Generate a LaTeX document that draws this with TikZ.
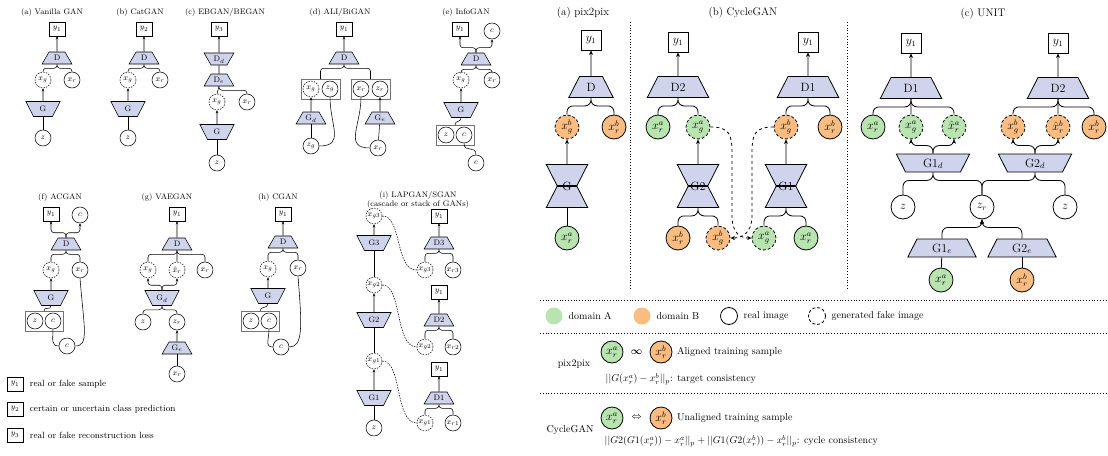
\documentclass[tikz,border=0pt]{standalone}
\usepackage{amsmath,amssymb}
\usepackage{xcolor}
\usepackage{tikz}
\usetikzlibrary{arrows.meta,calc,positioning,shapes.geometric,fit}

\definecolor{netfill}{RGB}{208,211,236}
\definecolor{domA}{RGB}{184,228,175}
\definecolor{domB}{RGB}{249,189,130}

\begin{document}
\begin{tikzpicture}[x=1pt,y=-1pt,
  >={Stealth[length=3pt,width=2.6pt]},
  ttl/.style={font=\footnotesize},
  rttl/.style={font=\fontsize{11}{13}\selectfont},
  img/.style={circle,draw,minimum size=16pt,inner sep=0pt,font=\footnotesize},
  fake/.style={img,dash pattern=on 1.5pt off 1.2pt},
  ybox/.style={draw,minimum width=16pt,minimum height=14pt,inner sep=0pt,font=\footnotesize},
  net/.style={trapezium,trapezium angle=60,draw,fill=netfill,inner sep=0pt,align=center,
    text width=16pt,text height=8.75pt,text depth=3.25pt,font=\footnotesize},
  gen/.style={net,shape border rotate=180,trapezium angle=63,text width=19pt,
    text height=10.25pt,text depth=4.75pt},
  grp/.style={draw=black!55,inner sep=1.5pt},
  fork/.style={rounded corners=3pt,to path={-- ($(\tikztostart)+(0,#1)$) -| (\tikztotarget)}},
  fork/.default=4,
  bigfork/.style={fork=#1,rounded corners=6pt},
  bigfork/.default=8,
  bigimg/.style={circle,draw,minimum size=24pt,inner sep=0pt,font=\large},
  bigfake/.style={bigimg,dash pattern=on 3pt off 2pt},
  bignet/.style={trapezium,trapezium angle=63,draw,fill=netfill,inner sep=0pt,align=center,
    text width=#1,text height=14.6pt,text depth=6.4pt,font=\large},
  bignet/.default=40pt,
  bigdec/.style={bignet=#1,shape border rotate=180},
  bigdec/.default=40pt,
  flat/.style={text height=13.1pt,text depth=4.9pt},
  bigbox/.style={draw,minimum size=20pt,inner sep=0pt,font=\large},
  sep/.style={dotted,line width=0.8pt}]
\useasboundingbox (0,0) rectangle (1108,455);

\begin{scope}[line width=0.55pt]
% (a) vanilla
\node[ttl] at (52,12) {(a) Vanilla GAN};
\node[ybox] (a-y) at (57,29) {$y_1$};
\node[net] (a-D) at (57,58) {D};
\node[fake] (a-xg) at (43,80) {$x_g$};
\node[img] (a-xr) at (72,80) {$x_r$};
\node[gen] (a-G) at (43,109) {G};
\node[img] (a-z) at (43,138) {$z$};
\draw[->] (a-D) -- (a-y);
\draw[fork] (a-D.south) to (a-xg.north) (a-D.south) to (a-xr.north);
\draw[->] (a-G) -- (a-xg);
\draw (a-z) -- (a-G);

% (b) catgan
\node[ttl] at (140,12) {(b) CatGAN};
\node[ybox] (b-y) at (144,29) {$y_2$};
\node[net] (b-D) at (144,58) {D};
\node[fake] (b-xg) at (128,80) {$x_g$};
\node[img] (b-xr) at (160,80) {$x_r$};
\node[gen] (b-G) at (128,109) {G};
\node[img] (b-z) at (128,138) {$z$};
\draw[->] (b-D) -- (b-y);
\draw[fork] (b-D.south) to (b-xg.north) (b-D.south) to (b-xr.north);
\draw[->] (b-G) -- (b-xg);
\draw (b-z) -- (b-G);

% (c) ebgan
\node[ttl] at (225,12) {(c) EBGAN/BEGAN};
\node[ybox] (c-y) at (219,29) {$y_3$};
\node[net,shape border rotate=180] (c-Dd) at (219,59) {D$_d$};
\node[net] (c-De) at (219,80) {D$_e$};
\node[fake] (c-xg) at (217,102) {$x_g$};
\node[img] (c-xr) at (247,102) {$x_r$};
\node[gen] (c-G) at (217,132) {G};
\node[img] (c-z) at (217,163) {$z$};
\draw[->] (c-Dd) -- (c-y);
\draw (c-De) -- (c-Dd);
\draw (c-De.south) -- (c-xg.north);
\draw[fork] (c-De.south) to (c-xr.north);
\draw[->] (c-G) -- (c-xg);
\draw (c-z) -- (c-G);

% (d) ali
\node[ttl] at (340,12) {(d) ALI/BiGAN};
\node[ybox] (d-y) at (344,29) {$y_1$};
\node[net] (d-D) at (344,58) {D};
\node[fake] (d-xg) at (311,89) {$x_g$};
\node[img] (d-zg) at (330,89) {$z_g$};
\node[img] (d-xr) at (361,89) {$x_r$};
\node[img] (d-zr) at (380,89) {$z_r$};
\node[grp,fit=(d-xg)(d-zg)] (d-bl) {};
\node[grp,fit=(d-xr)(d-zr)] (d-br) {};
\node[net] (d-Gd) at (311,118) {G$_d$};
\node[net] (d-Ge) at (380,118) {G$_e$};
\node[img] (d-z) at (311,146) {$z_g$};
\node[img] (d-x) at (378,148) {$x_r$};
\draw[->] (d-D) -- (d-y);
\draw[fork] (d-D.south) to (d-bl.north) (d-D.south) to (d-br.north);
\draw[->] (d-Gd) -- (d-xg);
\draw (d-z) -- (d-Gd);
\draw (d-z.east) .. controls +(26,0) and +(0,28) .. (d-zg.south);
\draw[->] (d-Ge) -- (d-zr);
\draw (d-x) -- (d-Ge);
\draw (d-x.west) .. controls +(-26,0) and +(0,28) .. (d-xr.south);

% (e) infogan
\node[ttl] at (466,12) {(e) InfoGAN};
\node[ybox] (e-y) at (460,29) {$y_1$};
\node[img] (e-c) at (492,31) {$c$};
\node[net] (e-D) at (476,59) {D};
\node[fake] (e-xg) at (461,80) {$x_g$};
\node[img] (e-xr) at (492,80) {$x_r$};
\node[gen] (e-G) at (461,110) {G};
\node[img] (e-zi) at (446,135) {$z$};
\node[img] (e-ci) at (464,135) {$c$};
\node[grp,fit=(e-zi)(e-ci)] (e-b) {};
\node[img] (e-c2) at (476,163) {$c$};
\draw[fork=-5,->] (e-D.north) to (e-y.south);
\draw[fork=-5,->] (e-D.north) to (e-c.south);
\draw[fork] (e-D.south) to (e-xg.north) (e-D.south) to (e-xr.north);
\draw[->] (e-G) -- (e-xg);
\draw (e-b.north) .. controls +(0,-5) and +(0,5) .. (e-G.south);
\draw (e-ci.south) .. controls +(0,10) and +(0,-10) .. (e-c2.north);

% (f) acgan
\node[ttl] at (60,197) {(f) ACGAN};
\node[ybox] (f-y) at (51,214) {$y_1$};
\node[img] (f-c) at (80,215) {$c$};
\node[net] (f-D) at (66,244) {D};
\node[fake] (f-xg) at (51,270) {$x_g$};
\node[img] (f-xr) at (80,270) {$x_r$};
\node[gen] (f-G) at (51,298) {G};
\node[img] (f-zi) at (35,321) {$z$};
\node[img] (f-ci) at (53,321) {$c$};
\node[grp,fit=(f-zi)(f-ci)] (f-b) {};
\node[img] (f-c2) at (67,346) {$c$};
\draw[fork=-5,->] (f-D.north) to (f-y.south);
\draw[fork=-5,->] (f-D.north) to (f-c.south);
\draw[fork] (f-D.south) to (f-xg.north) (f-D.south) to (f-xr.north);
\draw[->] (f-G) -- (f-xg);
\draw (f-b.north) .. controls +(0,-5) and +(0,5) .. (f-G.south);
\draw (f-ci.south) .. controls +(0,10) and +(-8,0) .. (f-c2.west);
\draw (f-xr.south) .. controls +(4,50) and +(14,0) .. (f-c2.east);

% (g) vaegan
\node[ttl] at (167,197) {(g) VAEGAN};
\node[ybox] (g-y) at (177,214) {$y_1$};
\node[net] (g-D) at (177,244) {D};
\node[fake] (g-xg) at (148,270) {$x_g$};
\node[fake] (g-xh) at (177,270) {$\hat{x}_r$};
\node[img] (g-xr) at (205,270) {$x_r$};
\node[gen] (g-Gd) at (162,298) {G$_d$};
\node[img] (g-z) at (143,322) {$z$};
\node[img] (g-zr) at (177,322) {$z_r$};
\node[net] (g-Ge) at (177,348) {G$_e$};
\node[img] (g-x) at (177,374) {$x_r$};
\draw[->] (g-D) -- (g-y);
\draw[fork] (g-D.south) to (g-xg.north) (g-D.south) to (g-xr.north);
\draw (g-D.south) -- (g-xh.north);
\draw[fork=-5,->] (g-Gd.north) to (g-xg.south);
\draw[fork=-5,->] (g-Gd.north) to (g-xh.south);
\draw[fork] (g-Gd.south) to (g-z.north) (g-Gd.south) to (g-zr.north);
\draw[->] (g-Ge) -- (g-zr);
\draw (g-x) -- (g-Ge);

% (h) cgan
\node[ttl] at (278,197) {(h) CGAN};
\node[ybox] (h-y) at (283,214) {$y_1$};
\node[net] (h-D) at (283,242) {D};
\node[fake] (h-xg) at (268,269) {$x_g$};
\node[img] (h-xr) at (298,268) {$x_r$};
\node[gen] (h-G) at (268,296) {G};
\node[img] (h-zi) at (251,321) {$z$};
\node[img] (h-ci) at (269,321) {$c$};
\node[grp,fit=(h-zi)(h-ci)] (h-b) {};
\node[img] (h-c2) at (281,347) {$c$};
\draw[->] (h-D) -- (h-y);
\draw[fork] (h-D.south) to (h-xg.north) (h-D.south) to (h-xr.north);
\draw[->] (h-G) -- (h-xg);
\draw (h-b.north) .. controls +(0,-5) and +(0,5) .. (h-G.south);
\draw (h-ci.south) .. controls +(0,10) and +(-8,0) .. (h-c2.west);
\draw (h-xr.south) .. controls +(4,50) and +(14,0) .. (h-c2.east);

% (i) lapgan
\node[ttl,align=center] at (418,200) {(i) LAPGAN/SGAN\\(cascade or stack of GANs)};
\node[fake] (i-g3) at (374,216) {$x_{g3}$};
\node[gen] (i-G3) at (374,243) {G3};
\node[fake] (i-g2) at (374,285) {$x_{g2}$};
\node[gen] (i-G2) at (374,320) {G2};
\node[fake] (i-g1) at (374,361) {$x_{g1}$};
\node[gen] (i-G1) at (374,398) {G1};
\node[img] (i-z) at (374,428) {$z$};
\draw (i-z) -- (i-G1);
\draw[->] (i-G1) -- (i-g1);
\draw (i-g1) -- (i-G2);
\draw[->] (i-G2) -- (i-g2);
\draw (i-g2) -- (i-G3);
\draw[->] (i-G3) -- (i-g3);
\node[ybox] (i-y3) at (439,216) {$y_1$};
\node[net] (i-D3) at (439,243) {D3};
\node[fake] (i-h3) at (425,270) {$x_{g3}$};
\node[img] (i-r3) at (453,270) {$x_{r3}$};
\node[ybox] (i-y2) at (439,292) {$y_1$};
\node[net] (i-D2) at (439,320) {D2};
\node[fake] (i-h2) at (425,347) {$x_{g2}$};
\node[img] (i-r2) at (453,347) {$x_{r2}$};
\node[ybox] (i-y1) at (439,369) {$y_1$};
\node[net] (i-D1) at (439,398) {D1};
\node[fake] (i-h1) at (425,423) {$x_{g1}$};
\node[img] (i-r1) at (453,423) {$x_{r1}$};
\draw[->] (i-D3) -- (i-y3);
\draw[->] (i-D2) -- (i-y2);
\draw[->] (i-D1) -- (i-y1);
\draw[fork] (i-D3.south) to (i-h3.north) (i-D3.south) to (i-r3.north);
\draw[fork] (i-D2.south) to (i-h2.north) (i-D2.south) to (i-r2.north);
\draw[fork] (i-D1.south) to (i-h1.north) (i-D1.south) to (i-r1.north);
\draw[dash pattern=on 1.5pt off 1.2pt] (i-g3.east) .. controls +(20,0) and +(-22,0) .. (i-h3.west);
\draw[dash pattern=on 1.5pt off 1.2pt] (i-g2.east) .. controls +(20,0) and +(-22,0) .. (i-h2.west);
\draw[dash pattern=on 1.5pt off 1.2pt] (i-g1.east) .. controls +(20,0) and +(-22,0) .. (i-h1.west);

% legend
\node[ybox] (k1) at (15,384) {$y_1$};
\node[right=3pt of k1,font=\small] {real or fake sample};
\node[ybox] (k2) at (15,409) {$y_2$};
\node[right=3pt of k2,font=\small] {certain or uncertain class prediction};
\node[ybox] (k3) at (15,435) {$y_3$};
\node[right=3pt of k3,font=\small] {real or fake reconstruction loss};
\end{scope}

\begin{scope}[line width=0.8pt,>={Stealth[length=4.5pt,width=4pt]}]
% pix2pix
\node[rttl] at (583,13) {(a) pix2pix};
\node[bigbox] (p-y) at (591,40) {$y_1$};
\node[bignet=23pt] (p-D) at (591,87) {D};
\node[bigfake,fill=domB] (p-xg) at (567,127) {$x_g^b$};
\node[bigimg,fill=domB] (p-xr) at (614,127) {$x_r^b$};
\node[bigdec=20pt] (p-Gt) at (567,175) {};
\node[bignet=20pt] (p-Gb) at (567,197) {};
\node[font=\large] (p-G) at (567,186) {G};
\node[bigimg,fill=domA] (p-x) at (567,238) {$x_r^a$};
\draw[->] (p-D) -- (p-y);
\draw[bigfork] (p-D.south) to (p-xg.north) (p-D.south) to (p-xr.north);
\draw[->] (p-Gt) -- (p-xg);
\draw (p-x) -- (p-Gb);

\draw[sep] (630,22) -- (630,290);
\draw[sep] (847,22) -- (847,290);

% cyclegan
\node[rttl] at (743,13) {(b) CycleGAN};
\node[bigbox] (c2-y) at (678,42) {$y_1$};
\node[bignet] (c2-D) at (678,87) {D2};
\node[bigimg,fill=domA] (c2-xr) at (658,127) {$x_r^a$};
\node[bigfake,fill=domA] (c2-xg) at (698,127) {$x_g^a$};
\node[bigdec=20pt] (c2-Gt) at (698,175) {};
\node[bignet=20pt] (c2-Gb) at (698,197) {};
\node[font=\large] (c2-G) at (698,186) {G2};
\node[bigimg,fill=domB] (c2-xrb) at (678,238) {$x_r^b$};
\node[bigfake,fill=domB] (c2-xgb) at (718,238) {$x_g^b$};
\draw[->] (c2-D) -- (c2-y);
\draw[bigfork] (c2-D.south) to (c2-xr.north) (c2-D.south) to (c2-xg.north);
\draw[->] (c2-Gt) -- (c2-xg);
\draw[bigfork] (c2-Gb.south) to (c2-xrb.north) (c2-Gb.south) to (c2-xgb.north);

\node[bigbox] (c1-y) at (808,42) {$y_1$};
\node[bignet] (c1-D) at (808,87) {D1};
\node[bigfake,fill=domB] (c1-xg) at (786,127) {$x_g^b$};
\node[bigimg,fill=domB] (c1-xr) at (830,127) {$x_r^b$};
\node[bigdec=20pt] (c1-Gt) at (786,175) {};
\node[bignet=20pt] (c1-Gb) at (786,197) {};
\node[font=\large] (c1-G) at (786,186) {G1};
\node[bigfake,fill=domA] (c1-xga) at (764,238) {$x_g^a$};
\node[bigimg,fill=domA] (c1-xra) at (806,238) {$x_r^a$};
\draw[->] (c1-D) -- (c1-y);
\draw[bigfork] (c1-D.south) to (c1-xg.north) (c1-D.south) to (c1-xr.north);
\draw[->] (c1-Gt) -- (c1-xg);
\draw[bigfork] (c1-Gb.south) to (c1-xga.north) (c1-Gb.south) to (c1-xra.north);

\draw[->,dashed] (c2-xg.east) .. controls +(20,0) and +(0,-20) .. (732,155) -- (732,215)
  .. controls +(0,20) and +(-10,0) .. (c1-xga.west);
\draw[->,dashed] (c1-xg.west) .. controls +(-20,0) and +(0,-20) .. (752,155) -- (752,215)
  .. controls +(0,20) and +(10,0) .. (c2-xgb.east);

% unit
\node[rttl] at (983,14) {(c) UNIT};
\node[bigbox] (u-y1) at (911,43) {$y_1$};
\node[bigbox] (u-y2) at (1058,43) {$y_1$};
\node[bignet] (u-D1) at (911,88) {D1};
\node[bignet] (u-D2) at (1058,88) {D2};
\node[bigimg,fill=domA] (u-xra) at (873,127) {$x_r^a$};
\node[bigfake,fill=domA] (u-xga) at (911,127) {$x_g^a$};
\node[bigfake,fill=domA] (u-xha) at (954,127) {$\hat{x}_r^a$};
\node[bigfake,fill=domB] (u-xgb) at (1013,127) {$x_g^b$};
\node[bigfake,fill=domB] (u-xhb) at (1058,127) {$\hat{x}_r^b$};
\node[bigimg,fill=domB] (u-xrb) at (1094,127) {$x_r^b$};
\node[bigdec=55pt,flat] (u-G1d) at (933,163) {G1$_d$};
\node[bigdec=55pt,flat] (u-G2d) at (1035,163) {G2$_d$};
\node[bigimg] (u-z1) at (903,207) {$z$};
\node[bigimg] (u-zr) at (982,207) {$z_r$};
\node[bigimg] (u-z2) at (1065,207) {$z$};
\node[bignet=50pt,flat] (u-G1e) at (942,248) {G1$_e$};
\node[bignet=50pt,flat] (u-G2e) at (1022,248) {G2$_e$};
\node[bigimg,fill=domA] (u-xa) at (941,280) {$x_r^a$};
\node[bigimg,fill=domB] (u-xb) at (1022,280) {$x_r^b$};
\draw[->] (u-D1) -- (u-y1);
\draw[->] (u-D2) -- (u-y2);
\draw[bigfork] (u-D1.south) to (u-xra.north) (u-D1.south) to (u-xha.north);
\draw (u-D1.south) -- (u-xga.north);
\draw[bigfork] (u-D2.south) to (u-xgb.north) (u-D2.south) to (u-xrb.north);
\draw (u-D2.south) -- (u-xhb.north);
\draw[bigfork=-8,->] (u-G1d.north) to (u-xga.south);
\draw[bigfork=-8,->] (u-G1d.north) to (u-xha.south);
\draw[bigfork=-8,->] (u-G2d.north) to (u-xgb.south);
\draw[bigfork=-8,->] (u-G2d.north) to (u-xhb.south);
\draw[bigfork] (u-G1d.south) to (u-z1.north) (u-G1d.south) to (u-zr.north);
\draw[bigfork] (u-G2d.south) to (u-zr.north) (u-G2d.south) to (u-z2.north);
\draw[bigfork,<-] (u-zr.south) to (u-G1e.north);
\draw[bigfork,<-] (u-zr.south) to (u-G2e.north);
\draw (u-xa) -- (u-G1e);
\draw (u-xb) -- (u-G2e);

% legend and training pairs
\draw[sep] (540,300) -- (1108,300);
\node[circle,fill=domA,minimum size=17pt] (lg-a) at (554,316) {};
\node[right=2pt of lg-a] {domain A};
\node[circle,fill=domB,minimum size=17pt] (lg-b) at (642,316) {};
\node[right=2pt of lg-b] {domain B};
\node[circle,draw,minimum size=17pt] (lg-r) at (729,316) {};
\node[right=2pt of lg-r] {real image};
\node[circle,draw,dash pattern=on 3pt off 2pt,minimum size=17pt] (lg-f) at (817,316) {};
\node[right=2pt of lg-f] {generated fake image};
\draw[sep] (540,333) -- (1108,333);

\node at (574,364) {pix2pix};
\node[bigimg,fill=domA,minimum size=22pt] (s-a1) at (612,352) {$x_r^a$};
\node[bigimg,fill=domB,minimum size=22pt] (s-b1) at (661,352) {$x_r^b$};
\node (s-l1) at ($(s-a1)!0.5!(s-b1)$) {$\boldsymbol{\infty}$};
\node[right=1pt of s-b1] {Aligned training sample};
\node[anchor=west] at (602,379) {$||G(x_r^a)-x_r^b||_p$: target consistency};
\draw[sep] (540,393) -- (1108,393);

\node at (570,430) {CycleGAN};
\node[bigimg,fill=domA,minimum size=22pt] (s-a2) at (612,418) {$x_r^a$};
\node[bigimg,fill=domB,minimum size=22pt] (s-b2) at (661,418) {$x_r^b$};
\node (s-l2) at ($(s-a2)!0.5!(s-b2)$) {$\Leftrightarrow$};
\node[right=1pt of s-b2] {Unaligned training sample};
\node[anchor=west] at (601,441) {$||G2(G1(x_r^a))-x_r^a||_p+||G1(G2(x_r^b))-x_r^b||_p$: cycle consistency};
\end{scope}
\end{tikzpicture}
\end{document}
